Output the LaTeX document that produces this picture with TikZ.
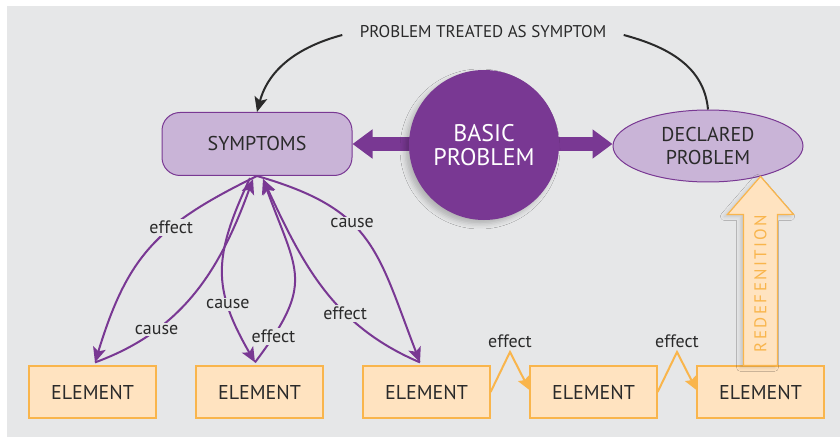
\documentclass[tikz,border=0pt]{standalone}
\usepackage{fontspec}
\setmainfont{PT Sans}
\usetikzlibrary{arrows.meta,calc,shadows.blur,shapes.geometric}
\definecolor{canvas}{HTML}{E6E7E8}
\definecolor{plum}{HTML}{793893}
\definecolor{lilac}{HTML}{C9B4D7}
\definecolor{peach}{HTML}{FFE3C0}
\definecolor{amber}{HTML}{F9B54C}
\definecolor{ink}{HTML}{2A2A2A}

\begin{document}
\begin{tikzpicture}[x=1pt,y=1pt,
  txt/.style={text=ink, font=\fontsize{20}{23}\selectfont, align=center},
  element/.style={txt, draw=amber, fill=peach, line width=1.2pt,
    minimum width=127pt, minimum height=52pt, inner sep=0pt},
  link/.style={draw=plum, line width=2pt,
    -{Stealth[length=15pt,width=13pt,inset=3.5pt]}},
  lbl/.style={fill=canvas, text=ink, font=\fontsize{18}{18}\selectfont, inner sep=2pt},
  zig/.style={draw=amber, line width=2pt,
    -{Stealth[length=13pt,width=12pt,inset=2pt]}},
  fat/.style={draw=plum, line width=14pt,
    -{Triangle[length=20pt,width=28pt]}},
  loop/.style={draw=ink, line width=2pt},
  redef/.style={draw=amber, fill=peach, line width=1.2pt, line join=miter},
]
% canvas and page size
\useasboundingbox (0,0) rectangle (840,437);
\fill[canvas] (7,0) rectangle (840,431);

% top row
\node[txt, draw=plum, fill=lilac, line width=1pt, rounded corners=18pt,
  minimum width=190pt, minimum height=63pt] (symptoms) at (257,293) {SYMPTOMS};
\node[ellipse, txt, draw=plum, fill=lilac, line width=1pt,
  minimum width=190pt, minimum height=72pt, inner sep=0pt] (declared) at (708,291)
  {DECLARED\\PROBLEM};

% fat arrows from the basic problem
\draw[fat] (484,293) -- (484,293 -| symptoms.east);
\draw[fat] (484,293) -- (484,293 -| declared.west);

\node[circle, fill=plum, minimum size=150pt, inner sep=0pt,
  text=white, font=\fontsize{24}{24}\selectfont, align=center,
  blur shadow={shadow xshift=-4pt, shadow yshift=-4pt, shadow blur radius=5pt,
    shadow opacity=22}] (basic) at (484,292) {BASIC\\PROBLEM};

% loop: problem treated as symptom
\node[text=ink, font=\fontsize{17}{17}\selectfont] (treated) at (483,405)
  {PROBLEM TREATED AS SYMPTOM};
\draw[loop, -{Stealth[length=15pt,width=13pt,inset=3.5pt]}]
  ([xshift=-14pt,yshift=-3pt]treated.west) to[out=195,in=75] (symptoms.north);
\draw[loop] ([xshift=14pt,yshift=-3pt]treated.east) to[out=-15,in=95] (declared.north);

% bottom row
\node[element] (el1) at (92.5,45) {ELEMENT};
\node[element] (el2) at (259.5,45) {ELEMENT};
\node[element] (el3) at (426.5,45) {ELEMENT};
\node[element] (el4) at (593.5,45) {ELEMENT};
\node[element] (el5) at (760.5,45) {ELEMENT};

% anchor points on the symptoms box and the elements
\coordinate (sMid) at (symptoms.south);
\coordinate (sL) at ([xshift=-4pt,yshift=-3pt]symptoms.south);
\coordinate (sR) at ([xshift=6pt,yshift=-3pt]symptoms.south);
\coordinate (sC) at ([xshift=-7pt,yshift=-2pt]symptoms.south);
\coordinate (e1) at ([xshift=2.5pt,yshift=3pt]el1.north);
\coordinate (e2) at ([xshift=-4.5pt,yshift=3pt]el2.north);
\coordinate (e3) at ([xshift=-6.5pt,yshift=3pt]el3.north);

% cause / effect links
\draw[link] (sMid) to[out=206,in=73,looseness=1.15] node[lbl,pos=0.37]{effect} (e1);
\draw[link] (e1) to[out=20,in=-110] node[lbl,pos=0.27]{cause} (sL);
\draw[link] (sC) to[out=-115,in=120,looseness=1.2] node[lbl,pos=0.7]{cause} (e2);
\draw[link] (e2) to[out=53,in=-70,looseness=1.4] node[lbl,pos=0.12]{effect} (sR);
\draw[link] (e3) to[out=157,in=-65] node[lbl,pos=0.36]{effect} (sR);
\draw[link] (sMid) to[out=-16,in=111,looseness=1.25] node[lbl,pos=0.4]{cause} (e3);

% chain of effects between elements
\draw[zig] (el3.east) -- ($(el3.east)!0.5!(el4.west)+(0,40)$)
  node[above, inner sep=3pt, text=ink, font=\fontsize{18}{18}\selectfont]{effect}
  -- ([yshift=2pt]el4.west);
\draw[zig] (el4.east) -- ($(el4.east)!0.5!(el5.west)+(0,40)$)
  node[above, inner sep=3pt, text=ink, font=\fontsize{18}{18}\selectfont]{effect}
  -- ([yshift=2pt]el5.west);

% redefinition arrow
\coordinate (rb) at (el5.north);
\coordinate (rt) at (el5.north |- declared.-30);
\draw[redef, blur shadow={shadow xshift=-3pt, shadow yshift=-2pt,
    shadow blur radius=4pt, shadow opacity=15}]
  ($(rb)+(-17,0)$) -- ($(rt)+(-17,-38)$) -- ($(rt)+(-33,-38)$) -- (rt)
  -- ($(rt)+(33,-38)$) -- ($(rt)+(17,-38)$) -- ($(rb)+(17,0)$) -- cycle;
\node[rotate=90, text=amber, font=\fontsize{17}{17}\selectfont\addfontfeatures{LetterSpace=14}]
  (redeflabel) at ($(rb)+(0,82)$) {REDEFENITION};
\end{tikzpicture}
\end{document}
